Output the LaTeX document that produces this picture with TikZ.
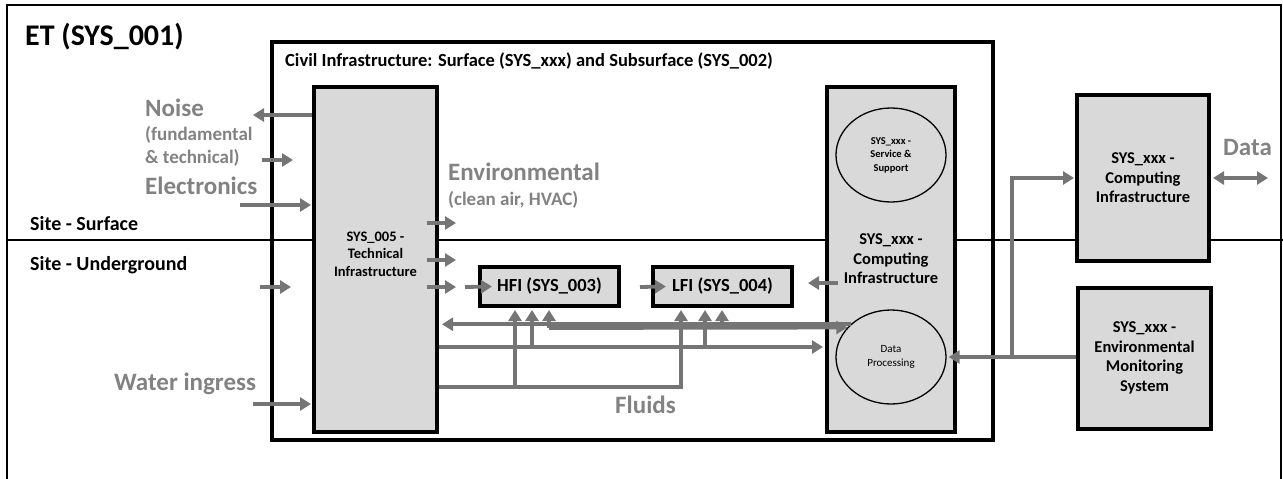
\documentclass[tikz,border=0pt]{standalone}
\usepackage{fontspec}
\setmainfont{Carlito}
\usetikzlibrary{arrows.meta,calc,shapes.geometric}
\definecolor{boxgray}{HTML}{D9D9D9}
\definecolor{arrgray}{HTML}{757575}
\definecolor{txtgray}{HTML}{828282}
\newcommand{\fs}[2]{\fontsize{#1}{#2}\selectfont}
\begin{document}
\begin{tikzpicture}[x=1pt,y=-1pt,
  gbox/.style={draw=black,line width=4pt,fill=boxgray,inner sep=0pt},
  ell/.style={ellipse,draw=black,line width=1.3pt,inner sep=0pt,minimum width=110pt,minimum height=94pt},
  arr/.style={draw=arrgray,line width=3.8pt,-{Triangle[length=11pt,width=13pt]}},
  darr/.style={draw=arrgray,line width=3.8pt,{Triangle[length=11pt,width=13pt]}-{Triangle[length=11pt,width=13pt]}},
  big/.style={text=txtgray,font=\fs{25}{28}\bfseries,anchor=base west,inner sep=0pt},
  small/.style={text=txtgray,font=\fs{19}{22}\bfseries,anchor=base west,inner sep=0pt},
  blab/.style={text=black,font=\fs{20}{23}\bfseries,anchor=base west,inner sep=0pt},
  inlab/.style={align=center,inner sep=0pt,font=\fs{16.5}{19.5}\bfseries}
]
\useasboundingbox (0,0) rectangle (1283,479);
% outer frame and ground line
\draw[line width=1.5pt] (7,479) -- (7,5) -- (1281,5) -- (1281,479);
\draw[line width=1.5pt] (7,240) -- (1283,240);
% civil infrastructure
\node[draw=black,line width=4pt,minimum width=721pt,minimum height=398pt,inner sep=0pt] (civ) at (632.5,241) {};
\node[anchor=base west,inner sep=0pt,font=\fs{18.5}{21}\bfseries] (civlab) at (285,66) {Civil Infrastructure: Surface (SYS\_xxx) and Subsurface (SYS\_002)};
% title and site labels
\node[anchor=base west,inner sep=0pt,font=\fs{30}{34}\bfseries] (title) at (25,45) {ET (SYS\_001)};
\node[blab] (surf) at (30,230) {Site - Surface};
\node[blab] (under) at (30,270) {Site - Underground};
% boxes
\node[gbox,minimum width=123pt,minimum height=345pt] (sys5) at (375.5,259.5) {};
\node[inlab,font=\fs{14.5}{17.5}\bfseries] (sys5lab) at (375.5,254) {SYS\_005 -\\Technical\\Infrastructure};
\node[gbox,minimum width=128pt,minimum height=345pt] (comp) at (891,259.5) {};
\node[inlab] (complab) at (891,259) {SYS\_xxx -\\Computing\\Infrastructure};
\node[ell] (svc) at (891,155) {};
\node[align=center,inner sep=0pt,font=\fs{10.5}{13.5}\bfseries] (svclab) at (891,155) {SYS\_xxx -\\Service \&\\Support};
\node[ell] (dp) at (891,357) {};
\node[align=center,inner sep=0pt,font=\fs{11}{14}] (dplab) at (891,357) {Data\\Processing};
\node[gbox,minimum width=139pt,minimum height=39pt,font=\fs{18.5}{21}\bfseries] (hfi) at (549.5,286.5) {HFI (SYS\_003)};
\node[gbox,minimum width=139pt,minimum height=39pt,font=\fs{18.5}{21}\bfseries] (lfi) at (722.5,286.5) {LFI (SYS\_004)};
\node[gbox,minimum width=132pt,minimum height=166pt] (rcomp) at (1143,178) {};
\node[inlab] (rcomplab) at (1143,178) {SYS\_xxx -\\Computing\\Infrastructure};
\node[gbox,minimum width=133pt,minimum height=141pt] (ems) at (1144.5,358.5) {};
\node[inlab] (emslab) at (1144.5,358) {SYS\_xxx -\\Environmental\\Monitoring\\System};
% gray labels
\node[big] (noise) at (145,116) {Noise};
\node[small] (fund) at (145,140) {(fundamental};
\node[small] (tech) at (145,163) {\& technical)};
\node[big] (elec) at (145,194) {Electronics};
\node[big] (water) at (114,390) {Water ingress};
\node[big] (env) at (448,180) {Environmental};
\node[small] (hvac) at (448,205) {(clean air, HVAC)};
\node[big] (fluids) at (615,413) {Fluids};
\node[big] (data) at (1223,155) {Data};
% left side arrows
\coordinate (nz) at (253,115);
\draw[arr] (sys5.west |- nz) -- (nz);
\coordinate (t1) at (262,160); \coordinate (t2) at (293,160);
\draw[arr] (t1) -- (t2);
\coordinate (el) at (240,205);
\draw[arr] (el) -- ($(sys5.west |- el)+(-1,0)$);
\coordinate (u1) at (260,287); \coordinate (u2) at (291,287);
\draw[arr] (u1) -- (u2);
\coordinate (wi) at (253,404);
\draw[arr] (wi) -- ($(sys5.west |- wi)+(-1,0)$);
% environmental arrows
\coordinate (e1) at (456,223); \coordinate (e2) at (456,260); \coordinate (e3) at (456,287);
\draw[arr] ($(sys5.east |- e1)+(-12,0)$) -- (e1);
\draw[arr] ($(sys5.east |- e2)+(-12,0)$) -- (e2);
\draw[arr] ($(sys5.east |- e3)+(-12,0)$) -- (e3);
\coordinate (h0) at (465,287);
\draw[arr] (h0) -- ($(hfi.west)+(14,0)$);
\coordinate (l0) at (640,287);
\draw[arr] (l0) -- ($(lfi.west)+(15,0)$);
\coordinate (c0) at (808,283);
\draw[arr] ($(comp.west |- c0)+(13,0)$) -- (c0);
% data processing links
\draw[arr] (dp.141) -- ($(sys5.east |- dp.141)+(3,0)$);
\coordinate (j1) at (549,328); \coordinate (j2) at (722,328);
\draw[arr] (j1) -- (dp.146);
\draw[arr] (j1) -- ($(j1 |- hfi.south)+(0,2)$);
\draw[arr] (j2) -- ($(j2 |- lfi.south)+(0,2)$);
% line at 347
\coordinate (m1) at (532,347); \coordinate (m2) at (705,347);
\draw[arr] (sys5.east |- m1) -- ($(comp.west |- m1)+(-2,0)$);
\draw[arr] (m1) -- ($(m1 |- hfi.south)+(0,2)$);
\draw[arr] (m2) -- ($(m2 |- lfi.south)+(0,2)$);
% fluids
\coordinate (f1) at (515,387); \coordinate (f2) at (681,387);
\draw[arr] (sys5.east |- f1) -| ($(f2 |- lfi.south)+(0,2)$);
\draw[arr] (f1) -- ($(f1 |- hfi.south)+(0,2)$);
% monitoring and computing
\coordinate (jd) at (1012,357);
\draw[arr] (ems.west |- dp.east) -- ($(dp.east)+(2,0)$);
\draw[arr] (jd) |- ($(rcomp.west)+(-1,0)$);
\coordinate (dend) at (1268,178);
\draw[darr] ($(rcomp.east)+(2,0)$) -- (dend);
\end{tikzpicture}
\end{document}
